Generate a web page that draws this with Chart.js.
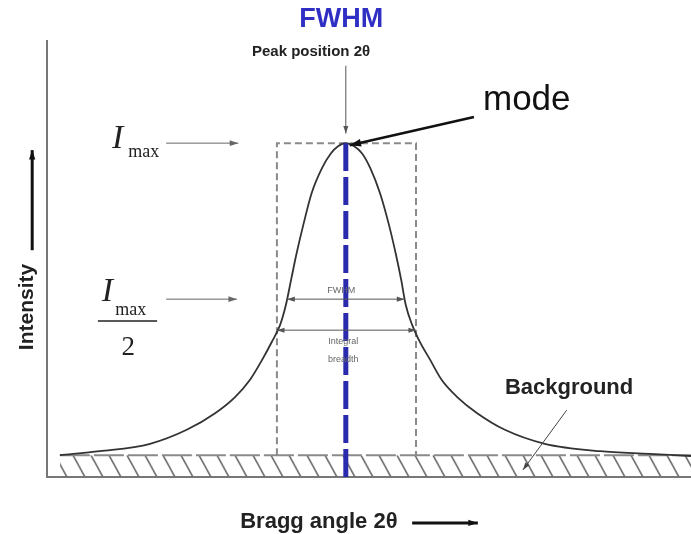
<!DOCTYPE html>
<html>
<head>
<meta charset="utf-8">
<title>FWHM</title>
<script src="https://cdn.jsdelivr.net/npm/chart.js@4.4.1/dist/chart.umd.min.js"></script>
<style>
  body { margin: 0; background: #fff; }
  #wrap { width: 691px; height: 534px; position: relative; }
</style>
</head>
<body>
<div id="wrap"><canvas id="peakChart"></canvas></div>
<script>
// diffraction peak profile, x = 2theta (arb. units), y = intensity (arb. units)
const profileX = [2.0, 8.2, 16.0, 21.7, 26.1, 29.2, 31.5, 33.4, 34.9, 36.2, 37.1, 37.9, 38.7, 39.8, 41.1, 42.7, 44.1, 45.2, 46.4,
                  47.7, 48.9, 50.2, 51.7, 53.1, 54.2, 55.0, 55.7, 56.7, 57.9, 59.5, 61.3, 63.7, 66.8, 71.1, 77.3, 85.9, 93.6, 100];
const profileY = [5.0, 5.9, 7.6, 10.8, 14.6, 18.3, 22.2, 26.8, 30.9, 34.8, 39.4, 45.1, 50.8, 57.7, 65.0, 70.7, 74.1, 75.7, 76.4,
                  75.7, 74.1, 70.7, 65.0, 57.7, 50.8, 45.1, 39.4, 34.8, 30.9, 26.8, 22.2, 18.3, 14.6, 10.8, 7.6, 5.9, 5.3, 4.8];

const peakX = 46.4;       // peak position 2theta
const peakMax = 76.4;     // I max
const bgLevel = 5.0;      // background intensity
const bgRange = [2.0, 100];
const halfMax = (peakMax + bgLevel) / 2;
const fwhmRange = [37.3, 55.5];
const breadthRange = [35.7, 57.3];   // integral breadth box
const breadthLevel = 33.6;

const xMin = 0, xMax = 100, yMin = 0, yMax = 100;

// diagonal hatching for the background band
const hatchCanvas = document.createElement('canvas');
hatchCanvas.width = 18;
hatchCanvas.height = 22;
const hctx = hatchCanvas.getContext('2d');
hctx.strokeStyle = '#6f6f6f';
hctx.lineWidth = 1.6;
hctx.beginPath();
hctx.moveTo(1, 0);
hctx.lineTo(13, 22);
hctx.stroke();
const hatch = document.createElement('canvas').getContext('2d').createPattern(hatchCanvas, 'repeat');

function drawArrow(ctx, x1, y1, x2, y2, o) {
    o = o || {};
    const w = o.width || 1, head = o.head || 8, color = o.color || '#444';
    ctx.save();
    ctx.strokeStyle = color;
    ctx.fillStyle = color;
    ctx.lineWidth = w;
    ctx.beginPath();
    ctx.moveTo(x1, y1);
    ctx.lineTo(x2, y2);
    ctx.stroke();
    const heads = o.both ? [[x1, y1, x2, y2], [x2, y2, x1, y1]] : [[x1, y1, x2, y2]];
    heads.forEach(h => {
        const a = Math.atan2(h[3] - h[1], h[2] - h[0]);
        ctx.beginPath();
        ctx.moveTo(h[2], h[3]);
        ctx.lineTo(h[2] - head * Math.cos(a - 0.32), h[3] - head * Math.sin(a - 0.32));
        ctx.lineTo(h[2] - head * Math.cos(a + 0.32), h[3] - head * Math.sin(a + 0.32));
        ctx.closePath();
        ctx.fill();
    });
    ctx.restore();
}

const axesPlugin = {
    id: 'axesLines',
    beforeDatasetsDraw(chart) {
        const ctx = chart.ctx, a = chart.chartArea;
        // keep hatch aligned with the band top
        const top = chart.scales.y.getPixelForValue(bgLevel);
        hatch.setTransform(new DOMMatrix().translate(0, top));
        ctx.save();
        ctx.strokeStyle = '#777';
        ctx.lineWidth = 2;
        ctx.beginPath();
        ctx.moveTo(a.left, a.top);
        ctx.lineTo(a.left, a.bottom);
        ctx.lineTo(a.right, a.bottom);
        ctx.stroke();
        ctx.restore();
    }
};

const labelsPlugin = {
    id: 'peakLabels',
    afterDatasetsDraw(chart) {
        const ctx = chart.ctx;
        const X = v => chart.scales.x.getPixelForValue(v);
        const Y = v => chart.scales.y.getPixelForValue(v);
        const sans = '"Liberation Sans", Arial, sans-serif';
        const serif = '"Liberation Serif", "Times New Roman", serif';

        ctx.save();
        ctx.textBaseline = 'middle';

        ctx.fillStyle = '#2f2fc4';
        ctx.font = 'bold 27px ' + sans;
        ctx.textAlign = 'center';
        ctx.fillText('FWHM', X(45.7), Y(104.6));

        ctx.fillStyle = '#222';
        ctx.font = 'bold 15px ' + sans;
        ctx.fillText('Peak position 2θ', X(41.0), Y(97.3));
        drawArrow(ctx, X(peakX), Y(94.1), X(peakX), Y(78.6), { width: 1, head: 8, color: '#555' });

        // mode
        ctx.textAlign = 'left';
        ctx.fillStyle = '#111';
        ctx.font = '35px ' + sans;
        ctx.fillText('mode', X(67.7), Y(86.3));
        drawArrow(ctx, X(66.3), Y(82.4), X(47.0), Y(75.9), { width: 2.5, head: 12, color: '#111' });

        // I max
        ctx.textBaseline = 'alphabetic';
        ctx.fillStyle = '#222';
        ctx.font = 'italic 34px ' + serif;
        ctx.fillText('I', X(10.1), Y(75.3));
        ctx.font = '18px ' + serif;
        ctx.fillText('max', X(12.6), Y(73.2));
        drawArrow(ctx, X(18.5), Y(peakMax), X(29.7), Y(peakMax), { width: 1, head: 9, color: '#666' });

        // I max / 2
        ctx.font = 'italic 34px ' + serif;
        ctx.fillText('I', X(8.5), Y(40.2));
        ctx.font = '18px ' + serif;
        ctx.fillText('max', X(10.6), Y(37.0));
        ctx.strokeStyle = '#222';
        ctx.lineWidth = 1.5;
        ctx.beginPath();
        ctx.moveTo(X(7.9), Y(35.7));
        ctx.lineTo(X(17.1), Y(35.7));
        ctx.stroke();
        ctx.textAlign = 'center';
        ctx.font = '27px ' + serif;
        ctx.fillText('2', X(12.6), Y(27.9));
        drawArrow(ctx, X(18.5), Y(halfMax), X(29.5), Y(halfMax), { width: 1, head: 9, color: '#666' });

        // widths
        drawArrow(ctx, X(fwhmRange[0]), Y(halfMax), X(fwhmRange[1]), Y(halfMax), { width: 1, head: 8, color: '#555', both: true });
        drawArrow(ctx, X(breadthRange[0]), Y(breadthLevel), X(breadthRange[1]), Y(breadthLevel), { width: 1, head: 8, color: '#555', both: true });
        ctx.textBaseline = 'middle';
        ctx.fillStyle = '#666';
        ctx.font = '9px ' + sans;
        ctx.fillText('FWHM', X(45.7), Y(42.6));
        ctx.fillText('Integral', X(46.0), Y(31.1));
        ctx.fillText('breadth', X(46.0), Y(26.8));

        // background
        ctx.textAlign = 'left';
        ctx.fillStyle = '#222';
        ctx.font = 'bold 22px ' + sans;
        ctx.fillText('Background', X(71.1), Y(20.4));
        drawArrow(ctx, X(80.7), Y(15.3), X(73.9), Y(1.6), { width: 1, head: 8, color: '#444' });

        // axis titles
        ctx.font = 'bold 22px ' + sans;
        ctx.textAlign = 'left';
        ctx.fillText('Bragg angle 2θ', X(30.0), Y(-10.3));
        drawArrow(ctx, X(56.7), Y(-10.5), X(66.9), Y(-10.5), { width: 3, head: 10, color: '#111' });

        ctx.save();
        ctx.translate(X(-3.1), Y(38.9));
        ctx.rotate(-Math.PI / 2);
        ctx.textAlign = 'center';
        ctx.font = 'bold 21px ' + sans;
        ctx.fillText('Intensity', 0, 0);
        ctx.restore();
        drawArrow(ctx, X(-2.3), Y(51.9), X(-2.3), Y(74.8), { width: 3, head: 10, color: '#111' });

        ctx.restore();
    }
};

const profilePoints = profileX.map((x, i) => ({ x: x, y: profileY[i] }));

new Chart(document.getElementById('peakChart'), {
    type: 'line',
    data: {
        datasets: [
            {
                label: 'peak position',
                data: [{ x: peakX, y: yMin }, { x: peakX, y: peakMax }],
                borderColor: '#2a2aad',
                borderWidth: 5,
                borderDash: [28, 6],
                pointRadius: 0,
                order: 0
            },
            {
                label: 'profile',
                data: profilePoints,
                borderColor: '#333',
                borderWidth: 1.8,
                cubicInterpolationMode: 'monotone',
                pointRadius: 0,
                order: 1
            },
            {
                label: 'integral breadth',
                data: [
                    { x: breadthRange[0], y: bgLevel },
                    { x: breadthRange[0], y: peakMax },
                    { x: breadthRange[1], y: peakMax },
                    { x: breadthRange[1], y: bgLevel }
                ],
                borderColor: '#8a8a8a',
                borderWidth: 2,
                borderDash: [7, 4],
                pointRadius: 0,
                order: 2
            },
            {
                label: 'background',
                data: [{ x: bgRange[0], y: bgLevel }, { x: bgRange[1], y: bgLevel }],
                borderColor: '#8a8a8a',
                borderWidth: 2,
                borderDash: [30, 4],
                backgroundColor: hatch,
                fill: 'origin',
                pointRadius: 0,
                order: 3
            }
        ]
    },
    options: {
        responsive: true,
        maintainAspectRatio: false,
        animation: false,
        layout: { padding: { left: 47, right: 0, top: 40, bottom: 57 } },
        plugins: { legend: { display: false }, tooltip: { enabled: false } },
        scales: {
            x: { type: 'linear', min: xMin, max: xMax, display: false },
            y: { type: 'linear', min: yMin, max: yMax, display: false }
        }
    },
    plugins: [axesPlugin, labelsPlugin]
});
</script>
</body>
</html>
